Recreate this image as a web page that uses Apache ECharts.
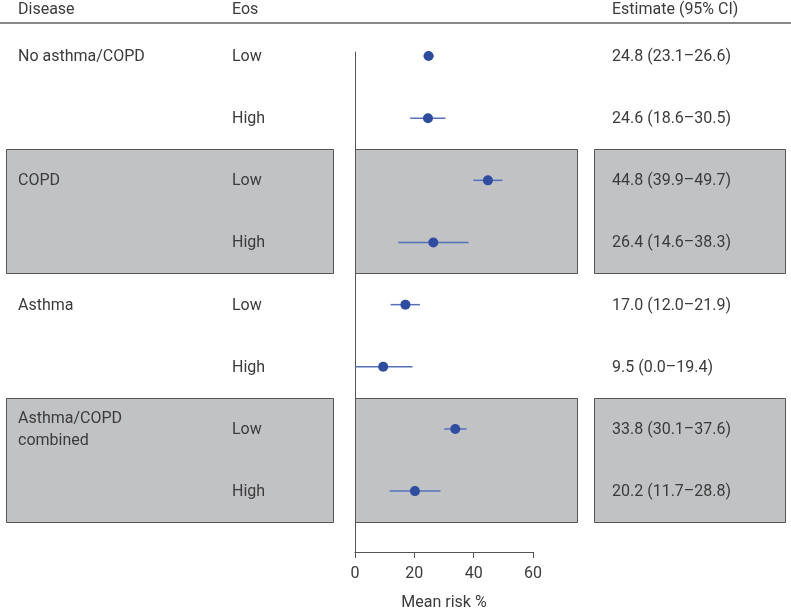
<!DOCTYPE html>
<html>
<head>
<meta charset="utf-8">
<script src="https://cdn.jsdelivr.net/npm/echarts@6/dist/echarts.min.js"></script>
<style>html,body{margin:0;padding:0;background:#fff}#c{width:791px;height:608px}</style>
</head>
<body>
<div id="c"></div>
<script>
const diseases = ['No asthma/COPD', 'COPD', 'Asthma', 'Asthma/COPD\ncombined'];
const eosLevels = ['Low', 'High'];
const estimate = [24.8, 24.6, 44.8, 26.4, 17.0, 9.5, 33.8, 20.2];
const lower    = [23.1, 18.6, 39.9, 14.6, 12.0, 0.0, 30.1, 11.7];
const upper    = [26.6, 30.5, 49.7, 38.3, 21.9, 19.4, 37.6, 28.8];
const shadedGroups = [1, 3];
const xTicks = [0, 20, 40, 60];
const headers = ['Disease', 'Eos', 'Estimate (95% CI)'];

const FONT = 'Roboto';
const TXT = '#3b3b3b';
const rows = estimate.map((e, i) => i);
const estLabels = estimate.map((e, i) => `${e.toFixed(1)} (${lower[i].toFixed(1)}–${upper[i].toFixed(1)})`);

const chart = echarts.init(document.getElementById('c'));
chart.setOption({
  animation: false,
  grid: { left: 355, right: 258, top: 52, bottom: 56, containLabel: false, outerBoundsMode: 'none' },
  xAxis: {
    type: 'value', min: xTicks[0], max: xTicks[xTicks.length - 1], interval: 20,
    position: 'bottom',
    axisLine: { onZero: false, lineStyle: { color: '#555', width: 1 } },
    axisTick: { show: true, length: 6, lineStyle: { color: '#555' } },
    axisLabel: { color: TXT, fontFamily: FONT, fontSize: 16, margin: 14 },
    splitLine: { show: false },
    name: 'Mean risk %', nameLocation: 'middle', nameGap: 43,
    nameTextStyle: { color: TXT, fontFamily: FONT, fontSize: 16 }
  },
  yAxis: {
    type: 'value', min: -0.065, max: 7.98, inverse: true,
    axisLine: { show: true, onZero: false, lineStyle: { color: '#555', width: 1 } },
    axisTick: { show: false }, axisLabel: { show: false }, splitLine: { show: false }
  },
  graphic: [
    { type: 'line', shape: { x1: 0, y1: 23, x2: 791, y2: 23 }, style: { stroke: '#888', lineWidth: 2 } },
    { type: 'text', x: 18, y: 10, style: { text: headers[0], fill: TXT, font: `16px ${FONT}`, textVerticalAlign: 'middle' } },
    { type: 'text', x: 232, y: 10, style: { text: headers[1], fill: TXT, font: `16px ${FONT}`, textVerticalAlign: 'middle' } },
    { type: 'text', x: 612, y: 10, style: { text: headers[2], fill: TXT, font: `16px ${FONT}`, textVerticalAlign: 'middle' } }
  ],
  series: [
    {
      type: 'custom', z: 0, clip: false, silent: true,
      data: shadedGroups.map(g => [0, g * 2]),
      renderItem: function (params, api) {
        const start = api.value(1);
        const y0 = api.coord([0, start - 0.5])[1];
        const y1 = api.coord([0, start + 1.5])[1];
        const xs = [[6, 333], [355, 577], [594, 785]];
        return {
          type: 'group',
          children: xs.map(([a, b]) => ({
            type: 'rect',
            shape: { x: a + 0.5, y: Math.round(y0) + 0.5, width: b - a, height: Math.round(y1 - y0) },
            style: { fill: '#c1c2c4', stroke: '#555', lineWidth: 1 }
          }))
        };
      }
    },
    {
      type: 'custom', z: 1, clip: false, silent: true,
      data: rows.map(i => [0, i]),
      renderItem: function (params, api) {
        const i = params.dataIndex;
        const y = api.coord([0, api.value(1)])[1] + 1;
        const children = [
          { type: 'text', x: 232, y: y, style: { text: eosLevels[i % 2], fill: TXT, font: `16px ${FONT}`, textVerticalAlign: 'middle' } },
          { type: 'text', x: 612, y: y, style: { text: estLabels[i], fill: TXT, font: `16px ${FONT}`, textVerticalAlign: 'middle' } }
        ];
        if (i % 2 === 0) {
          children.push({ type: 'text', x: 18, y: y, style: { text: diseases[i / 2], fill: TXT, font: `16px ${FONT}`, textVerticalAlign: 'middle', lineHeight: 22 } });
        }
        return { type: 'group', children };
      }
    },
    {
      type: 'custom', z: 2, clip: false, silent: true,
      data: rows.map(i => [lower[i], upper[i], i]),
      renderItem: function (params, api) {
        const a = api.coord([api.value(0), api.value(2)]);
        const b = api.coord([api.value(1), api.value(2)]);
        return { type: 'line', shape: { x1: a[0], y1: a[1], x2: b[0], y2: b[1] }, style: { stroke: '#5470b8', lineWidth: 1.5 } };
      }
    },
    {
      type: 'scatter', z: 3, symbol: 'circle', symbolSize: 10,
      itemStyle: { color: '#2f4c9f', opacity: 1 },
      data: rows.map(i => [estimate[i], i])
    }
  ]
});
</script>
</body>
</html>
